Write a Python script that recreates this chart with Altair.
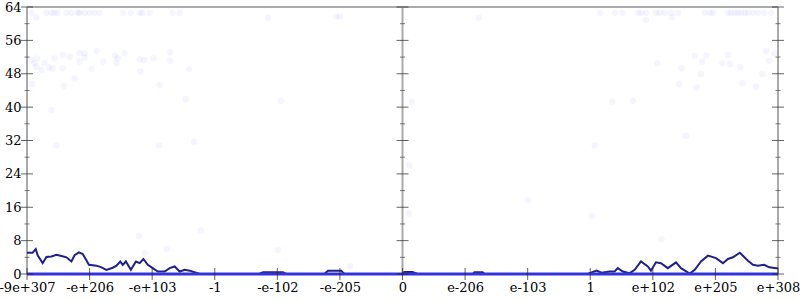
import altair as alt
import pandas as pd

# ---- data (x in axis-index units, y in counts) ----
X_TICK_POS = list(range(-6, 7))
X_TICK_LABELS = ["-9e+307", "-e+206", "-e+103", "-1", "-e-102", "-e-205", "0",
                 "e-206", "e-103", "1", "e+102", "e+205", "e+308"]
Y_MAJOR = list(range(0, 65, 8))
Y_MINOR = list(range(4, 61, 8))

line_x = [-6.00, -5.91, -5.86, -5.83, -5.75, -5.69, -5.61, -5.53, -5.45, -5.37, -5.29, -5.24,
          -5.17, -5.11, -5.07, -5.01, -4.89, -4.81, -4.73, -4.63, -4.57, -4.51, -4.47, -4.42,
          -4.34, -4.26, -4.20, -4.14, -4.07, -3.99, -3.91, -3.80, -3.72, -3.64, -3.56, -3.48,
          -3.40, -3.30, -3.24, -2.29, -2.23, -1.91, -1.86, -1.25, -1.19, -0.98, -0.93, 0.00,
          0.03, 0.16, 0.24, 1.12, 1.15, 1.28, 1.31, 2.96, 3.10, 3.18, 3.31, 3.39, 3.44, 3.52,
          3.63, 3.71, 3.81, 3.92, 3.97, 4.05, 4.13, 4.24, 4.37, 4.45, 4.59, 4.67, 4.77, 4.88,
          5.01, 5.12, 5.20, 5.28, 5.39, 5.52, 5.60, 5.68, 5.78, 5.86, 5.97, 6.00]
line_y = [5.1, 5.1, 6.0, 4.5, 2.6, 4.1, 4.2, 4.6, 4.3, 4.0, 3.0, 4.5,
          5.2, 4.8, 3.8, 2.2, 2.0, 1.6, 1.0, 1.5, 2.0, 3.0, 2.2, 3.0,
          1.0, 3.0, 2.6, 3.6, 2.2, 1.4, 0.6, 0.6, 1.4, 1.8, 0.6, 1.0,
          0.8, 0.3, 0.0, 0.0, 0.4, 0.4, 0.0, 0.0, 0.8, 0.8, 0.0, 0.0,
          0.5, 0.5, 0.0, 0.0, 0.4, 0.4, 0.0, 0.0, 0.8, 0.3, 0.6, 0.6, 1.4, 0.6,
          0.2, 1.0, 3.0, 1.8, 0.8, 2.8, 2.6, 1.4, 2.8, 1.4, 0.1, 1.0, 3.0, 4.4,
          3.8, 2.6, 3.6, 4.0, 5.1, 3.2, 2.2, 2.0, 2.2, 1.6, 1.4, 1.4]

zero_x = [-6, 6]
zero_y = [0, 0]

pts_x = [-5.93, -5.69, -5.61, -5.56, -5.51, -5.37, -5.29, -5.19, -5.16, -5.08, -5.00, -4.92,
         -4.84, -4.47, -4.34, -4.20, -4.16, -4.04, -3.67, -3.56,
         -5.85, -2.15, -1.06, -1.00,
         -5.93, -5.88, -5.84, -5.85, -5.77, -5.72, -5.65, -5.59, -5.56, -5.43, -5.43, -5.32,
         -5.16, -5.08, -5.16, -5.08, -4.97, -4.89, -4.78, -4.59, -4.57, -4.55, -4.44, -4.20,
         -4.19, -4.13, -3.98, -3.71, -3.71, -3.41, -5.92, -5.41, -5.24, -3.88, -3.46, -1.94,
         -5.61, -5.53, -3.89, -3.33,
         3.16, 3.40, 3.51, 3.76, 3.81, 3.89, 4.05, 4.11, 4.19, 4.29, 4.40, 4.83, 4.91, 4.96,
         5.20, 5.25, 5.31, 5.36, 5.41, 5.47, 5.52, 5.60, 5.68, 5.78, 5.89,
         1.22, 3.89, 4.31,
         4.67, 4.85, 5.20, 5.81, 5.94, 4.07, 4.79, 5.11, 5.23, 5.40, 5.86, 4.46, 4.77, 5.75,
         4.42, 4.70, 5.43, 5.65, 0.15, 3.35, 3.68, 4.53, 3.07,
         -4.21, -4.12, -3.77, -3.22, -1.99, -0.84, 0.10, 3.03, 4.14, 2.00, 0.11]
pts_y = [62.6] * 20 + [61.5, 61.4, 61.7, 61.7] + \
        [51.3, 50.5, 51.7, 49.7, 48.9, 50.6, 49.5, 49.3, 51.7, 52.5, 49.3, 52.1,
         53.0, 52.9, 50.9, 51.9, 49.1, 53.5, 50.9, 52.3, 50.5, 51.7, 53.0, 51.5,
         48.5, 51.3, 51.7, 53.1, 51.1, 49.1, 45.5, 45.1, 46.8, 45.3, 41.9, 41.5,
         39.3, 30.8, 30.8, 31.7] + \
        [62.6] * 25 + [61.4, 60.9, 61.5] + \
        [52.3, 52.3, 52.5, 53.5, 52.9, 50.5, 50.9, 50.5, 50.3, 49.5, 51.1, 49.3, 47.9, 47.9,
         45.5, 44.7, 45.7, 44.9, 41.3, 41.3, 41.5, 33.1, 30.8,
         9.1, 5.0, 6.0, 10.5, 5.8, 1.8, 14.5, 13.9, 8.3, 17.7, 26.0]

# ---- tables ----
line_df = pd.DataFrame({"x": line_x, "y": line_y})
zero_df = pd.DataFrame({"x": zero_x, "y": zero_y})
pts_df = pd.DataFrame({"x": pts_x, "y": pts_y})
vrules = pd.DataFrame({"x": [X_TICK_POS[0], 0, X_TICK_POS[-1]], "y0": [0] * 3, "y1": [64] * 3})
hrule = pd.DataFrame({"x0": [X_TICK_POS[0]], "x1": [X_TICK_POS[-1]], "y": [64]})
ymaj = pd.DataFrame([{"x": xx, "y": yy} for xx in vrules["x"] for yy in Y_MAJOR])
ymin = pd.DataFrame([{"x": xx, "y": yy} for xx in vrules["x"] for yy in Y_MINOR])
xt = pd.DataFrame({"x": X_TICK_POS, "y": [0] * len(X_TICK_POS)})

FONT = "DejaVu Serif"
label_expr = "[" + ",".join("'%s'" % s for s in X_TICK_LABELS) + "][datum.value + 6]"

xscale = alt.Scale(domain=[-6, 6], nice=False, zero=False)
yscale = alt.Scale(domain=[0, 64], nice=False)
xaxis = alt.Axis(values=X_TICK_POS, labelExpr=label_expr, ticks=False, domain=False, grid=False,
                 labelFont=FONT, labelFontSize=13, labelColor="black", labelPadding=7,
                 labelOverlap=False, labelFlush=False, title=None)
yaxis = alt.Axis(values=Y_MAJOR, ticks=False, domain=False, grid=False,
                 labelFont=FONT, labelFontSize=13, labelColor="black", labelPadding=6,
                 title=None)

X = lambda f="x": alt.X(f, type="quantitative", scale=xscale, axis=xaxis)
Y = lambda f="y": alt.Y(f, type="quantitative", scale=yscale, axis=yaxis)

points = alt.Chart(pts_df).mark_circle(size=40, color="#0000ff", opacity=0.035,
                                       stroke="#0000ff", strokeWidth=1, strokeOpacity=0.05).encode(x=X(), y=Y())

vr = alt.Chart(vrules).mark_rule(color="#aaaaaa", strokeWidth=2).encode(x=X(), y=Y("y0"), y2="y1")
hr = alt.Chart(hrule).mark_rule(color="#aaaaaa", strokeWidth=2).encode(x=X("x0"), x2="x1", y=Y())

line = alt.Chart(line_df).mark_line(color="#20208a", strokeWidth=2).encode(x=X(), y=Y())
zero = alt.Chart(zero_df).mark_line(color="#3434dc", strokeWidth=3).encode(x=X(), y=Y())

t1 = alt.Chart(ymaj).mark_tick(orient="horizontal", size=12, thickness=1, color="#222222").encode(x=X(), y=Y())
t2 = alt.Chart(ymin).mark_tick(orient="horizontal", size=5, thickness=1, color="#444444").encode(x=X(), y=Y())
t3 = alt.Chart(xt).mark_tick(orient="vertical", size=12, thickness=1, color="#222222").encode(x=X(), y=Y())

chart = alt.layer(points, vr, hr, line, zero, t1, t2, t3).properties(
    width=751, height=267,
    autosize=alt.AutoSizeParams(type="none"),
    padding={"left": 27, "top": 7, "right": 22, "bottom": 26},
    background="white",
).configure_view(stroke=None)

chart.save("out.html", embed_options={"renderer": "svg", "actions": False})
